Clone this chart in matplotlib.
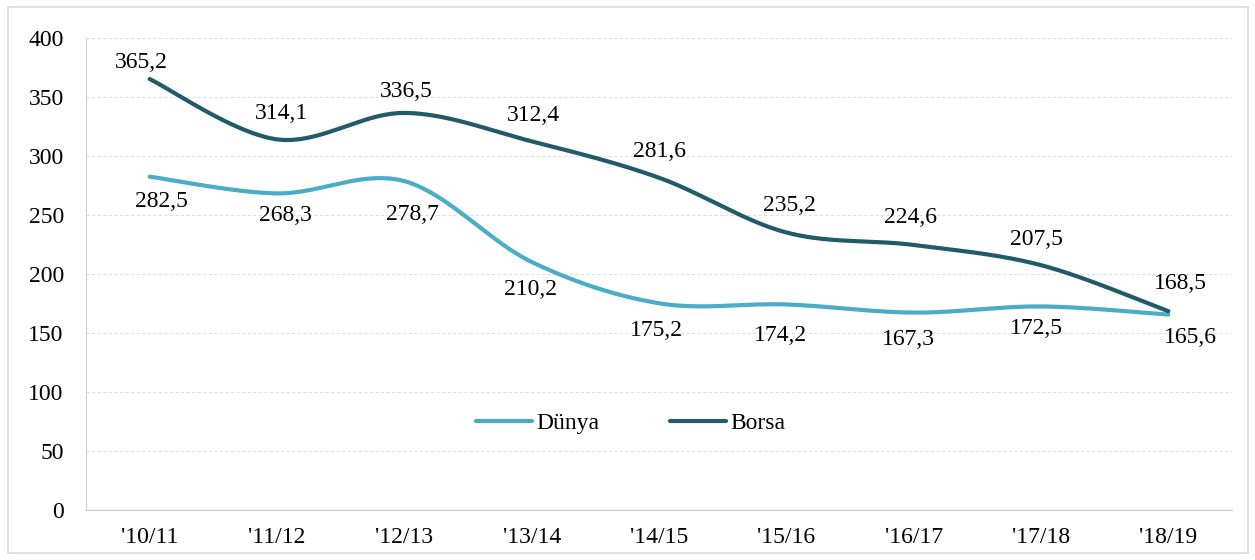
import numpy as np
import matplotlib.pyplot as plt
from matplotlib.patches import Rectangle

plt.rcParams['font.family'] = ['Liberation Serif', 'DejaVu Serif']

# veriler
donemler = ["'10/11", "'11/12", "'12/13", "'13/14", "'14/15", "'15/16", "'16/17", "'17/18", "'18/19"]
dunya = [282.5, 268.3, 278.7, 210.2, 175.2, 174.2, 167.3, 172.5, 165.6]
borsa = [365.2, 314.1, 336.5, 312.4, 281.6, 235.2, 224.6, 207.5, 168.5]

# etiket kaydirmalari (piksel)
dunya_dx = [12, 8, 8, -1, -3, -6, -5, -5, 22]
dunya_dy = [-25, -22, -33, -28, -27, -31, -27, -22, -23]
borsa_dx = [-8, 4, 2, 2, 0, 3, -3, -5, 12]
borsa_dy = [17, 26, 21, 26, 26, 27, 27, 26, 28]

renk_dunya = '#4bacc6'
renk_borsa = '#215a69'


def smooth(y, n=40):
    # Excel tarzi yumusak cizgi (Catmull-Rom / Bezier)
    y = np.asarray(y, float)
    x = np.arange(len(y), dtype=float)
    px, py = [], []
    for i in range(len(y) - 1):
        x0, y0 = (x[i - 1], y[i - 1]) if i > 0 else (x[i], y[i])
        x3, y3 = (x[i + 2], y[i + 2]) if i + 2 < len(y) else (x[i + 1], y[i + 1])
        x1, y1, x2, y2 = x[i], y[i], x[i + 1], y[i + 1]
        c1x, c1y = x1 + (x2 - x0) / 6, y1 + (y2 - y0) / 6
        c2x, c2y = x2 - (x3 - x1) / 6, y2 - (y3 - y1) / 6
        t = np.linspace(0, 1, n)
        b0, b1, b2, b3 = (1 - t) ** 3, 3 * (1 - t) ** 2 * t, 3 * (1 - t) * t ** 2, t ** 3
        px.extend(b0 * x1 + b1 * c1x + b2 * c2x + b3 * x2)
        py.extend(b0 * y1 + b1 * c1y + b2 * c2y + b3 * y2)
    return np.array(px), np.array(py)


fig = plt.figure(figsize=(12.55, 5.6), dpi=100)
ax = fig.add_axes([86 / 1255, 50 / 560, (1232 - 86) / 1255, (510 - 38) / 560])

sx, sy = smooth(dunya)
ax.plot(sx, sy, color=renk_dunya, lw=3, solid_capstyle='round', label='Dünya')
sx, sy = smooth(borsa)
ax.plot(sx, sy, color=renk_borsa, lw=3, solid_capstyle='round', label='Borsa')

px2pt = 72 / 100
for i, v in enumerate(dunya):
    ax.annotate(f'{v:.1f}'.replace('.', ','), (i, v),
                xytext=(dunya_dx[i] * px2pt, dunya_dy[i] * px2pt), textcoords='offset points',
                ha='center', va='center', fontsize=17)
for i, v in enumerate(borsa):
    ax.annotate(f'{v:.1f}'.replace('.', ','), (i, v),
                xytext=(borsa_dx[i] * px2pt, borsa_dy[i] * px2pt), textcoords='offset points',
                ha='center', va='center', fontsize=17)

ax.set_xlim(-0.5, len(donemler) - 0.5)
ax.set_ylim(0, 400)
ax.set_yticks(range(0, 401, 50))
ax.set_xticks(range(len(donemler)))
ax.set_xticklabels(donemler)
ax.tick_params(axis='both', length=0, labelsize=17)
ax.tick_params(axis='x', pad=12)
ax.tick_params(axis='y', pad=16)
ax.grid(axis='y', color='#e0e0e0', lw=0.8, ls=(0, (3, 2)))
ax.set_axisbelow(True)
for s in ['top', 'right']:
    ax.spines[s].set_visible(False)
ax.spines['left'].set_color('#d0d0d0')
ax.spines['bottom'].set_color('#c8c8c8')

ax.legend(loc='center', bbox_to_anchor=(0.475, 0.184), ncol=2, frameon=False, fontsize=17,
          handlelength=2.4, handletextpad=0.15, columnspacing=3.0)

fig.patches.append(Rectangle((8 / 1255, 7 / 560), 1240 / 1255, 546 / 560, transform=fig.transFigure,
                             fill=False, edgecolor='#d9d9d9', lw=1.2))

fig.savefig('out.png', dpi=100)
